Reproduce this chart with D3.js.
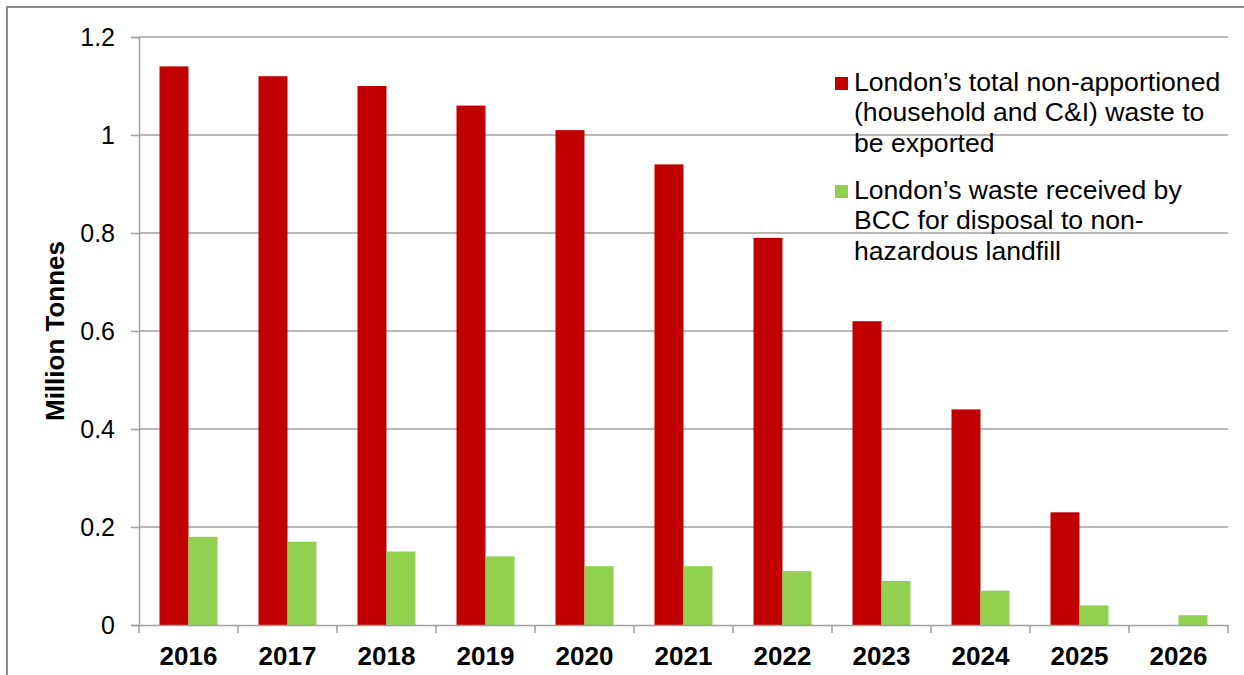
<!DOCTYPE html>
<html>
<head>
<meta charset="utf-8">
<script src="https://cdn.jsdelivr.net/npm/d3@7"></script>
<style>
  html, body { margin: 0; padding: 0; background: #fff; }
  svg { display: block; font-family: "Liberation Sans", Arial, sans-serif; }
</style>
</head>
<body>
<svg id="chart" width="1244" height="675"></svg>
<script>
const years = ['2016', '2017', '2018', '2019', '2020', '2021', '2022', '2023', '2024', '2025', '2026'];
const exported = [1.14, 1.12, 1.10, 1.06, 1.01, 0.94, 0.79, 0.62, 0.44, 0.23, 0];
const landfill = [0.18, 0.17, 0.15, 0.14, 0.12, 0.12, 0.11, 0.09, 0.07, 0.04, 0.02];
const yTicks = [0, 0.2, 0.4, 0.6, 0.8, 1, 1.2];
const seriesNames = [
    ['London\u2019s total non-apportioned', '(household and C&I) waste to', 'be exported'],
    ['London\u2019s waste received by', 'BCC for disposal to non-', 'hazardous landfill']
];
const colors = ['#c00000', '#92d050'];

const svg = d3.select('#chart');
const mLeft = 139, mRight = 1228, mTop = 37, mBottom = 625;
const gridCol = '#a0a0a0';
const font = '"Liberation Sans", Arial, sans-serif';

// outer frame (cut off at right and bottom like the source)
svg.append('rect')
    .attr('x', 7).attr('y', 7)
    .attr('width', 1260).attr('height', 700)
    .attr('fill', 'none').attr('stroke', '#8c8c8c').attr('stroke-width', 2);

const x = d3.scaleBand().domain(years).range([mLeft, mRight]).paddingInner(0).paddingOuter(0);
const xs = d3.scaleBand().domain([0, 1]).range([0, 58]);
const y = d3.scaleLinear().domain([0, 1.2]).range([mBottom, mTop]);

// gridlines
svg.append('g').selectAll('line')
    .data(yTicks.filter(d => d > 0))
    .join('line')
    .attr('x1', mLeft).attr('x2', mRight)
    .attr('y1', d => y(d)).attr('y2', d => y(d))
    .attr('stroke', gridCol).attr('stroke-width', 1.5);

// y axis
const yAxis = svg.append('g')
    .attr('transform', `translate(${mLeft},0)`)
    .call(d3.axisLeft(y).tickValues(yTicks).tickSize(8).tickPadding(16)
        .tickFormat(d => d3.format('~g')(d)));
yAxis.select('.domain').attr('stroke', gridCol).attr('stroke-width', 1.5);
yAxis.selectAll('line').attr('stroke', gridCol).attr('stroke-width', 1.5);
yAxis.selectAll('text').attr('font-size', 25).attr('fill', '#000').attr('font-family', font);

// bars
const groups = svg.append('g').selectAll('g')
    .data(years)
    .join('g')
    .attr('transform', d => `translate(${x(d) + (x.bandwidth() - 58) / 2},0)`);

groups.selectAll('rect')
    .data((d, i) => [exported[i], landfill[i]])
    .join('rect')
    .attr('x', (d, j) => xs(j))
    .attr('width', xs.bandwidth())
    .attr('y', d => y(d))
    .attr('height', d => y(0) - y(d))
    .attr('fill', (d, j) => colors[j]);

// x axis
const xAxis = svg.append('g')
    .attr('transform', `translate(0,${mBottom})`)
    .call(d3.axisBottom(x).tickSize(0).tickPadding(22));
xAxis.select('.domain').attr('stroke', gridCol).attr('stroke-width', 1.5);
xAxis.selectAll('text').attr('font-size', 26).attr('font-weight', 'bold').attr('fill', '#000')
    .attr('font-family', font);
// category separator ticks
const edges = years.map(d => x(d)).concat([x(years[years.length - 1]) + x.bandwidth()]);
svg.append('g').selectAll('line')
    .data(edges)
    .join('line')
    .attr('x1', d => d).attr('x2', d => d)
    .attr('y1', mBottom).attr('y2', mBottom + 8)
    .attr('stroke', gridCol).attr('stroke-width', 1.5);

// y title
svg.append('text')
    .attr('transform', `translate(64,331) rotate(-90)`)
    .attr('text-anchor', 'middle')
    .attr('font-size', 26).attr('font-weight', 'bold').attr('font-family', font)
    .text('Million Tonnes');

// legend
const legend = svg.append('g');
const legendBase = [90.5, 198.5];
seriesNames.forEach((lines, i) => {
    legend.append('rect')
        .attr('x', 835).attr('y', legendBase[i] - 13.5)
        .attr('width', 13).attr('height', 13)
        .attr('fill', colors[i]);
    const t = legend.append('text')
        .attr('x', 854).attr('y', legendBase[i])
        .attr('font-size', 26.6).attr('fill', '#000').attr('font-family', font);
    lines.forEach((l, k) => {
        t.append('tspan').attr('x', 854).attr('dy', k === 0 ? 0 : 30.5).text(l);
    });
});
</script>
</body>
</html>
